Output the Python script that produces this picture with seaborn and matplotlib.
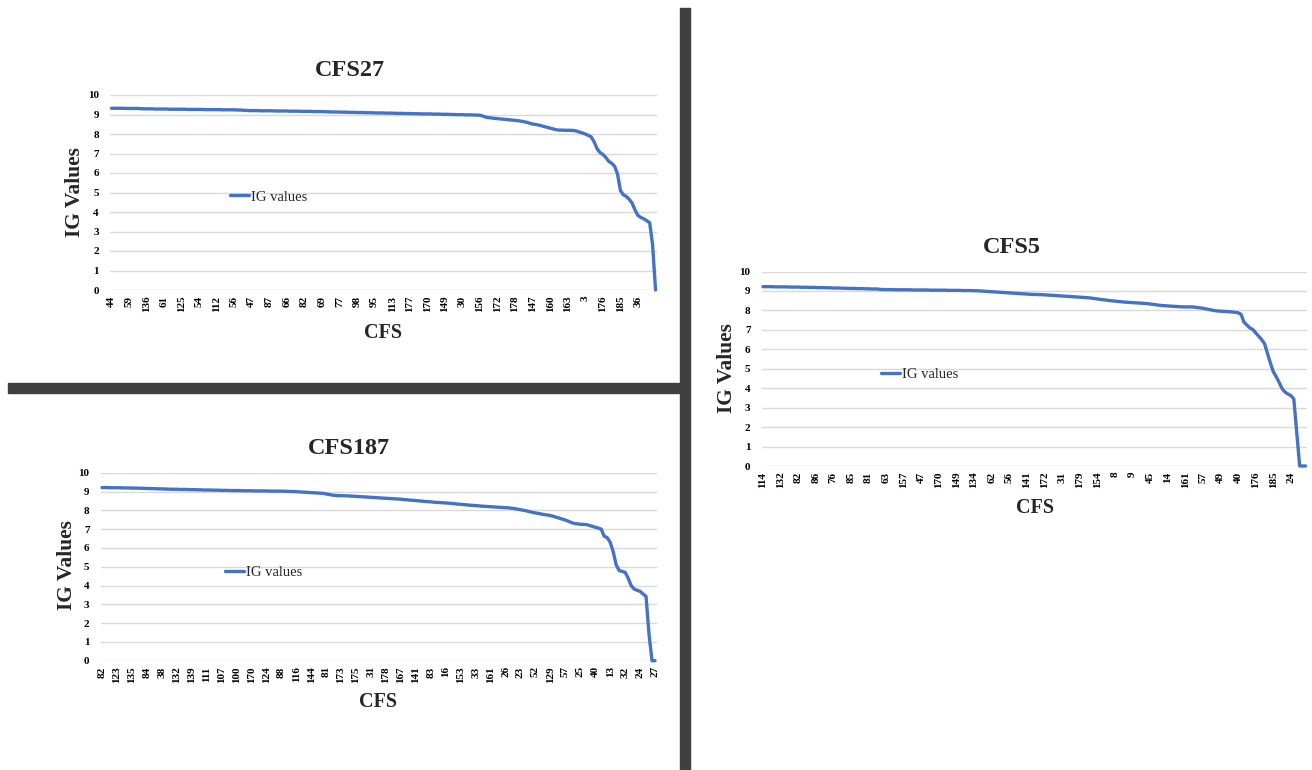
import numpy as np
import pandas as pd
import matplotlib
matplotlib.use("Agg")
import matplotlib.pyplot as plt
from matplotlib.patches import Rectangle
import seaborn as sns

# Style
sns.set_theme(style="white")
plt.rcParams["font.family"] = ["Liberation Serif", "DejaVu Serif"]

LINE = "#4472C4"
GRID = "#D9D9D9"
BAR = "#404040"

# ==========================================================
# Data (IG values, one per feature)
# ==========================================================

cfs27_values = [
    9.32, 9.32, 9.32, 9.32, 9.32, 9.31, 9.31, 9.31, 9.31, 9.31,
    9.30, 9.29, 9.29, 9.29, 9.29, 9.28, 9.28, 9.28, 9.28, 9.28,
    9.27, 9.27, 9.27, 9.27, 9.27, 9.27, 9.26, 9.26, 9.26, 9.26,
    9.26, 9.26, 9.25, 9.25, 9.25, 9.25, 9.25, 9.25, 9.24, 9.24,
    9.24, 9.24, 9.24, 9.23, 9.23, 9.22, 9.21, 9.20, 9.20, 9.20,
    9.20, 9.19, 9.19, 9.19, 9.19, 9.19, 9.18, 9.18, 9.18, 9.18,
    9.18, 9.17, 9.17, 9.17, 9.17, 9.16, 9.16, 9.16, 9.16, 9.15,
    9.15, 9.15, 9.15, 9.14, 9.14, 9.13, 9.13, 9.13, 9.12, 9.12,
    9.12, 9.11, 9.11, 9.11, 9.10, 9.10, 9.10, 9.09, 9.09, 9.09,
    9.08, 9.08, 9.08, 9.08, 9.07, 9.07, 9.07, 9.06, 9.06, 9.06,
    9.05, 9.05, 9.05, 9.04, 9.04, 9.04, 9.03, 9.03, 9.03, 9.03,
    9.02, 9.02, 9.02, 9.01, 9.01, 9.01, 9.00, 9.00, 8.99, 8.99,
    8.99, 8.98, 8.98, 8.98, 8.97, 8.97, 8.96, 8.92, 8.86, 8.84,
    8.82, 8.80, 8.79, 8.77, 8.76, 8.74, 8.73, 8.71, 8.70, 8.68,
    8.66, 8.63, 8.60, 8.55, 8.51, 8.49, 8.46, 8.42, 8.38, 8.34,
    8.30, 8.26, 8.22, 8.20, 8.20, 8.19, 8.19, 8.19, 8.18, 8.15,
    8.10, 8.05, 8.00, 7.93, 7.85, 7.60, 7.25, 7.05, 6.95, 6.80,
    6.60, 6.50, 6.35, 5.95, 5.10, 4.88, 4.80, 4.65, 4.45, 4.10,
    3.82, 3.72, 3.65, 3.55, 3.45, 2.30, 0.00,
]
cfs27_labels = ["44", "59", "136", "61", "125", "54", "112", "56", "47", "87",
                "66", "82", "69", "77", "98", "95", "113", "177", "170", "149",
                "30", "156", "172", "178", "147", "160", "163", "3", "176", "185",
                "36"]

cfs187_values = [
    9.21, 9.21, 9.21, 9.20, 9.20, 9.20, 9.20, 9.19, 9.19, 9.19,
    9.18, 9.18, 9.18, 9.17, 9.17, 9.16, 9.16, 9.15, 9.15, 9.14,
    9.14, 9.13, 9.13, 9.12, 9.12, 9.12, 9.11, 9.11, 9.11, 9.10,
    9.10, 9.10, 9.09, 9.09, 9.08, 9.08, 9.08, 9.07, 9.07, 9.07,
    9.06, 9.06, 9.06, 9.05, 9.05, 9.05, 9.05, 9.04, 9.04, 9.04,
    9.04, 9.03, 9.03, 9.03, 9.03, 9.03, 9.02, 9.02, 9.02, 9.02,
    9.02, 9.01, 9.01, 9.00, 9.00, 8.99, 8.98, 8.97, 8.96, 8.95,
    8.94, 8.93, 8.92, 8.91, 8.90, 8.87, 8.84, 8.81, 8.79, 8.78,
    8.78, 8.77, 8.77, 8.76, 8.75, 8.74, 8.73, 8.72, 8.71, 8.70,
    8.69, 8.68, 8.67, 8.66, 8.65, 8.64, 8.63, 8.62, 8.61, 8.60,
    8.59, 8.57, 8.56, 8.54, 8.53, 8.52, 8.50, 8.49, 8.47, 8.46,
    8.45, 8.43, 8.42, 8.41, 8.40, 8.39, 8.38, 8.36, 8.35, 8.33,
    8.32, 8.30, 8.29, 8.27, 8.26, 8.25, 8.24, 8.22, 8.21, 8.20,
    8.19, 8.18, 8.17, 8.16, 8.15, 8.14, 8.13, 8.11, 8.09, 8.06,
    8.03, 8.00, 7.97, 7.93, 7.89, 7.86, 7.83, 7.80, 7.77, 7.75,
    7.72, 7.68, 7.63, 7.58, 7.53, 7.48, 7.42, 7.35, 7.30, 7.28,
    7.26, 7.25, 7.24, 7.20, 7.15, 7.10, 7.06, 7.00, 6.62, 6.55,
    6.30, 5.81, 5.10, 4.80, 4.75, 4.70, 4.40, 4.00, 3.81, 3.75,
    3.69, 3.55, 3.42, 1.40, 0.00, 0.00,
]
cfs187_labels = ["82", "123", "135", "84", "38", "132", "139", "111", "107", "100",
                 "170", "124", "88", "116", "144", "81", "173", "175", "31", "178",
                 "167", "141", "83", "16", "153", "33", "161", "26", "23", "52",
                 "129", "57", "25", "40", "13", "32", "24", "27"]

cfs5_values = [
    9.22, 9.22, 9.22, 9.22, 9.21, 9.21, 9.21, 9.21, 9.21, 9.20,
    9.20, 9.20, 9.20, 9.19, 9.19, 9.19, 9.18, 9.18, 9.18, 9.17,
    9.17, 9.17, 9.16, 9.16, 9.15, 9.15, 9.15, 9.14, 9.14, 9.13,
    9.13, 9.13, 9.12, 9.12, 9.12, 9.11, 9.11, 9.10, 9.10, 9.10,
    9.08, 9.07, 9.07, 9.07, 9.07, 9.06, 9.06, 9.06, 9.06, 9.06,
    9.06, 9.05, 9.05, 9.05, 9.05, 9.05, 9.05, 9.04, 9.04, 9.04,
    9.04, 9.04, 9.04, 9.03, 9.03, 9.03, 9.03, 9.03, 9.02, 9.02,
    9.02, 9.02, 9.01, 9.01, 9.00, 8.99, 8.98, 8.97, 8.96, 8.95,
    8.94, 8.93, 8.92, 8.91, 8.90, 8.89, 8.88, 8.87, 8.86, 8.85,
    8.84, 8.83, 8.82, 8.82, 8.81, 8.81, 8.80, 8.79, 8.78, 8.77,
    8.76, 8.75, 8.74, 8.73, 8.72, 8.71, 8.70, 8.69, 8.68, 8.67,
    8.66, 8.65, 8.63, 8.61, 8.59, 8.57, 8.55, 8.53, 8.51, 8.49,
    8.48, 8.46, 8.45, 8.43, 8.42, 8.41, 8.40, 8.39, 8.38, 8.37,
    8.36, 8.35, 8.33, 8.31, 8.29, 8.27, 8.25, 8.24, 8.23, 8.22,
    8.21, 8.20, 8.19, 8.18, 8.18, 8.18, 8.18, 8.17, 8.15, 8.13,
    8.11, 8.08, 8.05, 8.02, 7.99, 7.97, 7.96, 7.95, 7.94, 7.93,
    7.92, 7.90, 7.88, 7.80, 7.40, 7.25, 7.10, 7.02, 6.85, 6.68,
    6.50, 6.30, 5.79, 5.30, 4.85, 4.59, 4.30, 3.98, 3.80, 3.70,
    3.62, 3.45, 1.70, 0.00, 0.00, 0.00,
]
cfs5_labels = ["114", "132", "82", "86", "76", "85", "81", "63", "157", "47",
               "170", "149", "134", "62", "56", "141", "172", "31", "179", "154",
               "8", "9", "45", "14", "161", "57", "49", "40", "176", "185",
               "24"]

# ==========================================================
# Figure
# ==========================================================

W, H = 1312, 770
fig = plt.figure(figsize=(W / 100, H / 100), dpi=100)


def draw_panel(box, values, labels, step, title, title_at, xlab_at, ylab_at, leg_at):
    left, top, right, bottom = box
    ax = fig.add_axes([left / W, 1 - bottom / H, (right - left) / W, (bottom - top) / H])

    def to_ax(x, y):
        return (x - left) / (right - left), (bottom - y) / (bottom - top)

    df = pd.DataFrame({"CFS": np.arange(len(values)), "IG": values})
    sns.lineplot(data=df, x="CFS", y="IG", ax=ax, color=LINE,
                 linewidth=2.4, label="IG values")
    ax.lines[0].set_clip_on(False)

    ax.set_xlim(-0.5, len(values) - 0.5)
    ax.set_ylim(0, 10)
    ax.set_yticks(range(0, 11))
    ax.set_yticklabels([str(v) for v in range(0, 11)], fontsize=8, fontweight="bold")
    ax.set_xticks(list(range(0, len(values), step))[:len(labels)])
    ax.set_xticklabels(labels, rotation=90, fontsize=8, fontweight="bold")
    ax.tick_params(axis="both", length=0, colors="#000000")
    ax.tick_params(axis="y", pad=8)
    ax.tick_params(axis="x", pad=4)

    ax.grid(axis="y", color=GRID, linewidth=1.0)
    ax.grid(axis="x", visible=False)
    ax.set_axisbelow(True)
    for s in ax.spines.values():
        s.set_visible(False)

    ax.set_xlabel("CFS", fontsize=14.5, fontweight="bold")
    ax.xaxis.set_label_coords(*to_ax(*xlab_at))
    ax.xaxis.label.set_va("center")
    ax.set_ylabel("IG Values", fontsize=15.5, fontweight="bold")
    ax.yaxis.set_label_coords(*to_ax(*ylab_at))
    ax.yaxis.label.set_va("center")

    ax.legend(loc="center left", bbox_to_anchor=to_ax(*leg_at), frameon=False,
              borderpad=0, handlelength=1.3, handletextpad=0.15,
              prop={"size": 10.5})

    fig.text(title_at[0] / W, 1 - title_at[1] / H, title, ha="center", va="center",
             fontsize=17.5, fontweight="bold")
    return ax


draw_panel((110, 95, 657, 290), cfs27_values, cfs27_labels, 6, "CFS27",
           (350, 70.5), (383, 333), (75, 192), (223, 197))
draw_panel((100.5, 472.7, 656.5, 660.7), cfs187_values, cfs187_labels, 5, "CFS187",
           (349, 449), (378, 702), (67, 565), (218, 572))
draw_panel((761.5, 271.5, 1307, 466), cfs5_values, cfs5_labels, 6, "CFS5",
           (1011.7, 247.7), (1035, 508), (727, 368), (874, 374))

# Dark separator bars
fig.add_artist(Rectangle((680 / W, 0), 10 / W, (H - 8) / H,
                         transform=fig.transFigure, color=BAR, zorder=5))
fig.add_artist(Rectangle((8 / W, 1 - 393 / H), (680 - 8) / W, 10 / H,
                         transform=fig.transFigure, color=BAR, zorder=5))

fig.savefig("out.png", dpi=100)
